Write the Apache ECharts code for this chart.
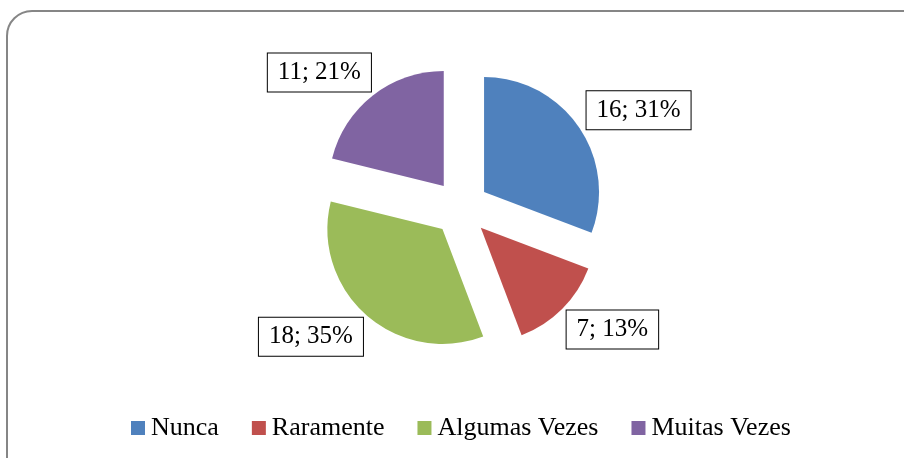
<!DOCTYPE html>
<html>
<head>
<meta charset="utf-8">
<script src="https://cdn.jsdelivr.net/npm/echarts@6/dist/echarts.min.js"></script>
<style>
  html, body { margin: 0; padding: 0; background: #fff; }
  #chart { width: 904px; height: 458px; }
</style>
</head>
<body>
<div id="chart"></div>
<script>
// categorias e valores
var categories = ["Nunca", "Raramente", "Algumas Vezes", "Muitas Vezes"];
var values = [16, 7, 18, 11];
var colors = ["#4F81BD", "#C0504D", "#9BBB59", "#8064A2"];

var serif = "'Times New Roman', 'Liberation Serif', serif";

var pieData = categories.map(function (name, i) {
    return {
        name: name,
        value: values[i],
        selected: true,
        itemStyle: { color: colors[i] }
    };
});

var myChart = echarts.init(document.getElementById("chart"));
myChart.setOption({
    animation: false,
    // moldura arredondada
    graphic: [
        {
            type: "rect",
            shape: { x: 7, y: 11, width: 930, height: 490, r: 25 },
            style: { fill: "none", stroke: "#868686", lineWidth: 2 },
            silent: true
        }
    ],
    legend: {
        data: categories,
        left: 126,
        top: 410,
        itemWidth: 14,
        itemHeight: 14,
        itemGap: 33,
        icon: "rect",
        textStyle: {
            fontFamily: serif,
            fontSize: 26,
            color: "#000",
            padding: [0, 0, 0, 1]
        }
    },
    series: [
        {
            type: "pie",
            center: [461, 208],
            radius: 115,
            startAngle: 90,
            clockwise: true,
            selectedMode: "multiple",
            selectedOffset: 28,
            percentPrecision: 0,
            avoidLabelOverlap: false,
            data: pieData,
            label: {
                show: true,
                position: "outside",
                formatter: "{c}; {d}%",
                fontFamily: serif,
                fontSize: 25,
                lineHeight: 26,
                color: "#000",
                backgroundColor: "#fff",
                borderColor: "#000",
                borderWidth: 1,
                padding: [6, 10],
                distanceToLabelLine: -16
            },
            labelLine: {
                show: false,
                length: 29,
                length2: 0
            },
            emphasis: { disabled: true },
            select: {
                itemStyle: { borderWidth: 0 }
            }
        }
    ]
});
</script>
</body>
</html>
